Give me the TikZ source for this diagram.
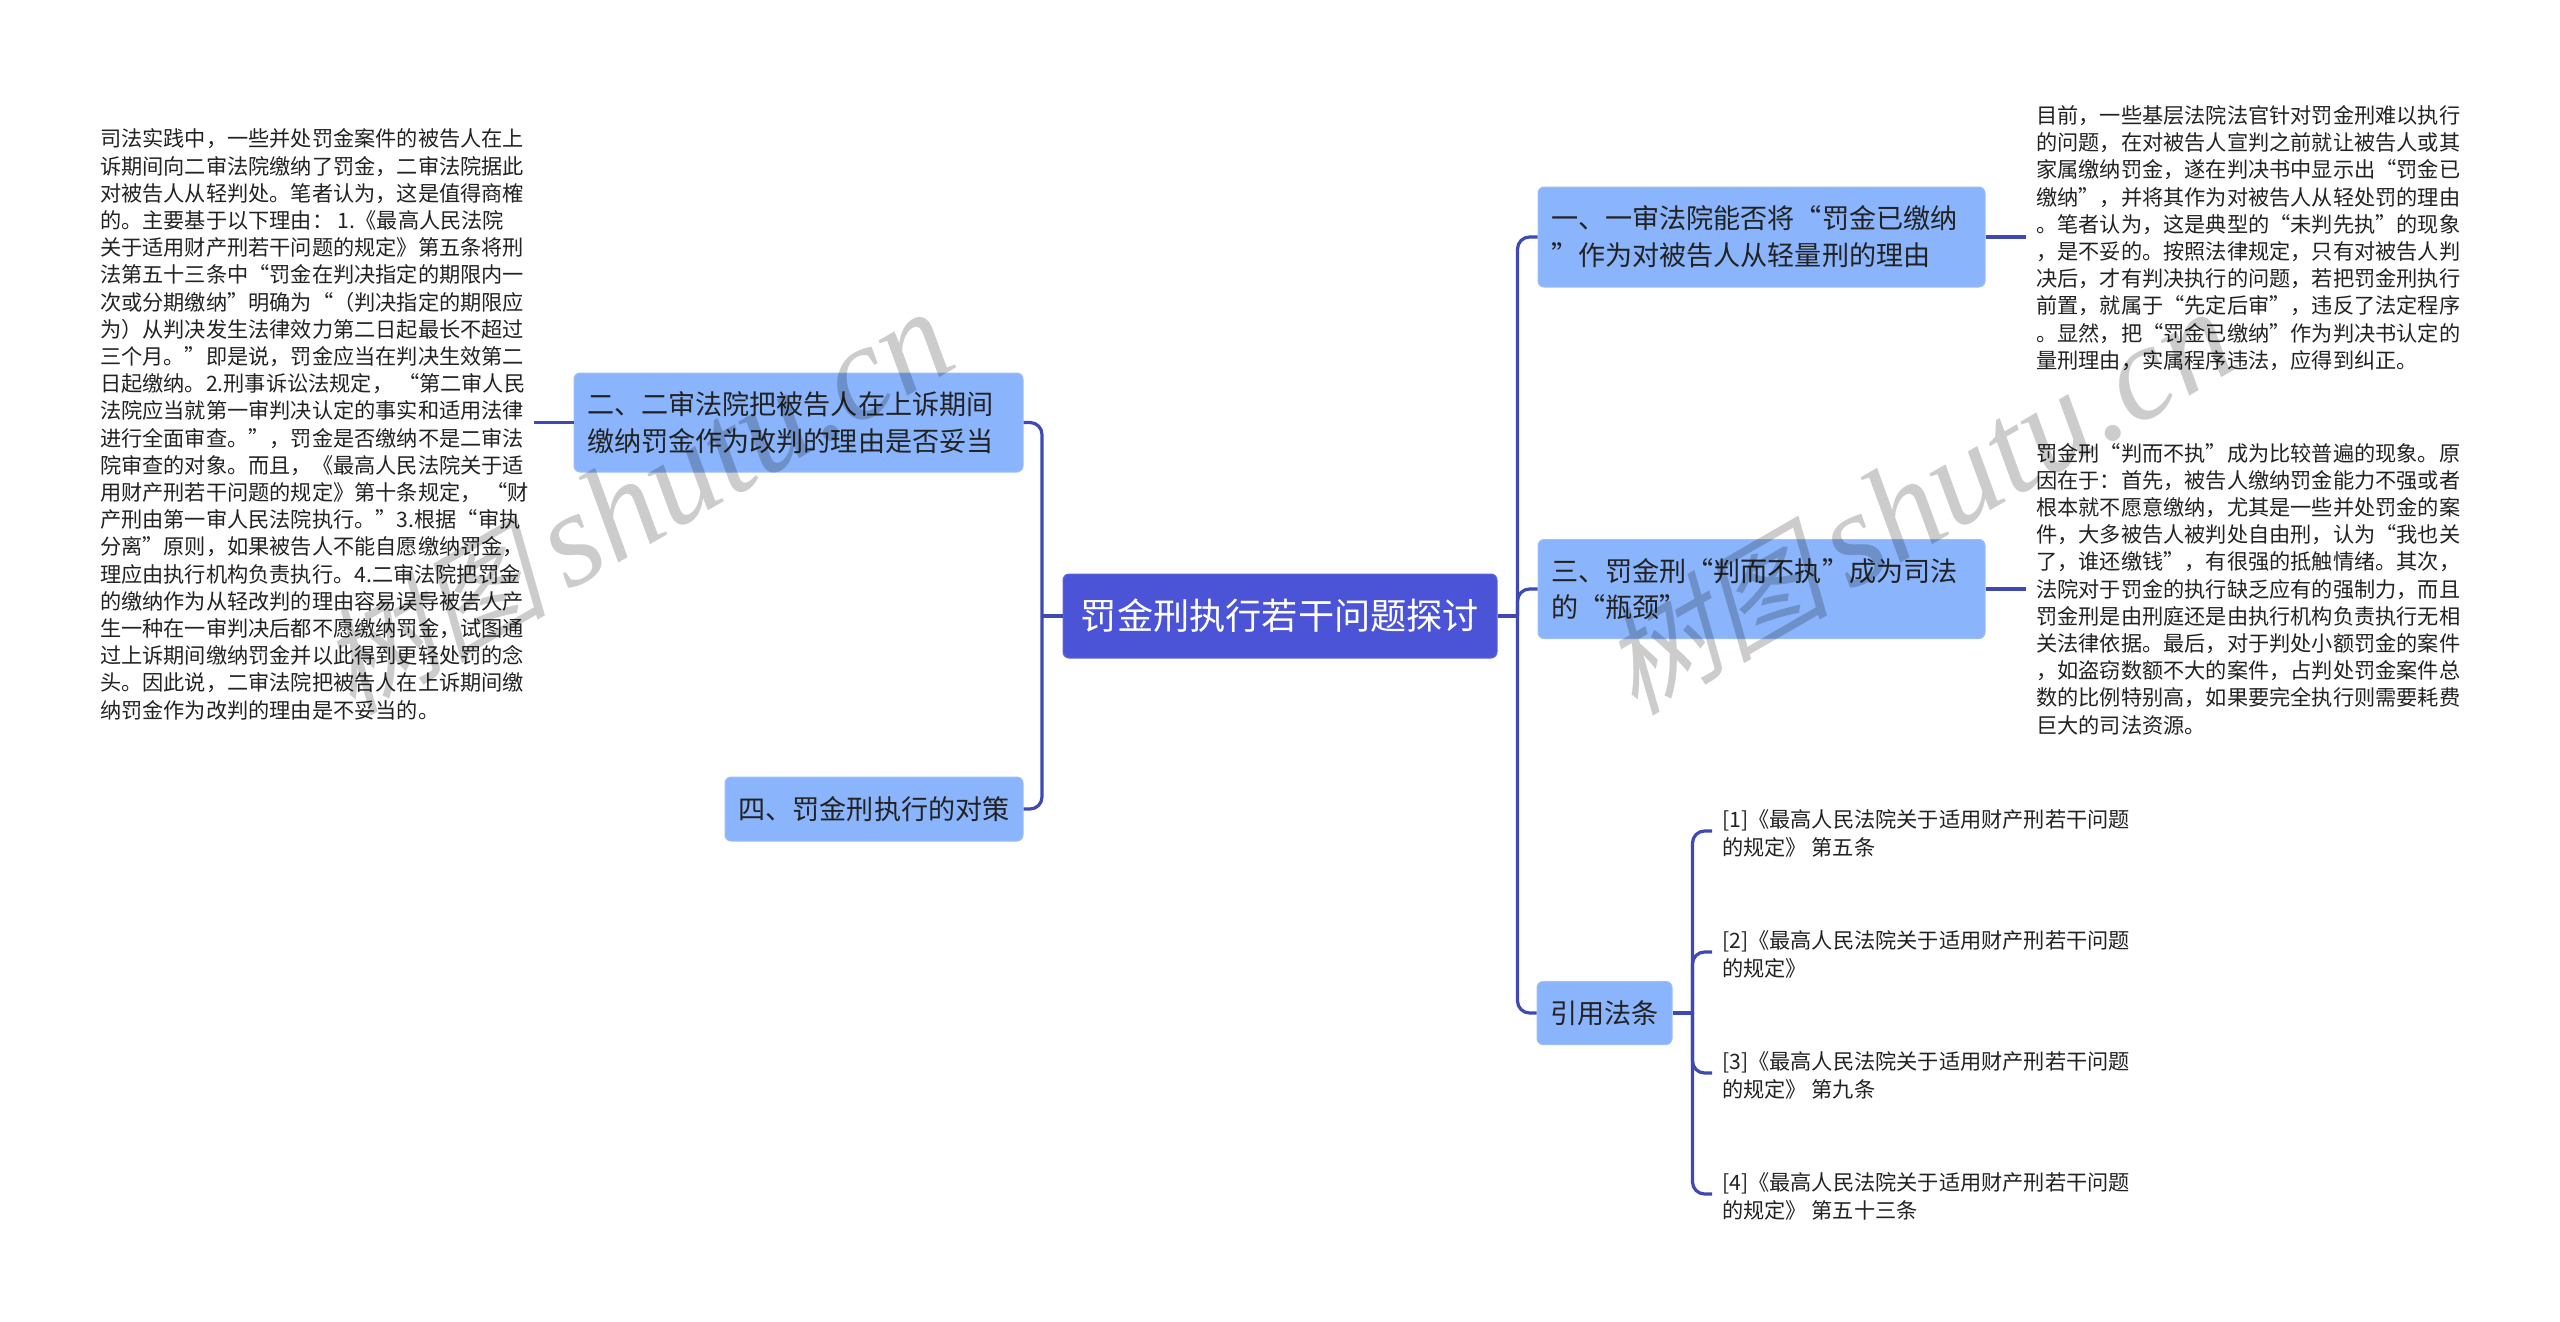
\documentclass[tikz,border=0pt]{standalone}
\usepackage{fontspec}
\setmainfont{Noto Sans CJK SC}
\newfontfamily\markcjk[FakeSlant=0.25]{Noto Sans CJK SC}
\newfontfamily\marklat{Liberation Serif}
\definecolor{rootblue}{HTML}{4B53D7}
\definecolor{topicblue}{HTML}{8AB4FB}
\definecolor{linkblue}{HTML}{3F49B4}
\definecolor{inktext}{HTML}{222222}
\tikzset{
  rootbox/.style={draw=rootblue!90!white, fill=rootblue, text=white, rounded corners=6pt, line width=1pt,
    inner sep=0pt, align=center, font=\fontsize{36.2}{44}\selectfont},
  topicbox/.style={draw=topicblue!85!white, fill=topicblue, text=inktext, rounded corners=6pt, line width=1pt,
    inner xsep=13pt, inner ysep=0pt, align=left, font=\fontsize{27.1}{36.6}\selectfont},
  para/.style={text=inktext, inner sep=10pt, align=left, font=\fontsize{21.2}{27.2}\selectfont},
  branch/.style={draw=linkblue, line width=3.2pt, rounded corners=12pt},
  watermark/.style={text=black, opacity=0.2, anchor=base west, rotate=30, inner sep=0pt}
}
\begin{document}
\begin{tikzpicture}[x=1pt,y=-1pt]
    \useasboundingbox (0,0) rectangle (2560,1322);

    \node [rootbox, minimum width=434pt, minimum height=84pt] (root) at (1280,616) {罚金刑执行若干问题探讨};

    \node [topicbox, text width=423pt, minimum height=99pt] (two) at (798.5,422.5) {二、二审法院把被告人在上诉期间\\缴纳罚金作为改判的理由是否妥当};
    \node [topicbox, text width=272pt, minimum height=64pt, align=center] (four) at (874,809) {四、罚金刑执行的对策};
    \node [topicbox, text width=421pt, minimum height=100pt] (one) at (1761.5,237) {一、一审法院能否将“罚金已缴纳\\”作为对被告人从轻量刑的理由};
    \node [topicbox, text width=421pt, minimum height=99pt] (three) at (1761.5,589) {三、罚金刑“判而不执”成为司法\\的“瓶颈”};
    \node [topicbox, text width=109pt, minimum height=63pt, align=center] (cite) at (1604.5,1013) {引用法条};

    \node [para, anchor=east, inner xsep=5pt] (twotext) at (534,424.5) {司法实践中，一些并处罚金案件的被告人在上\\
诉期间向二审法院缴纳了罚金，二审法院据此\\
对被告人从轻判处。笔者认为，这是值得商榷\\
的。主要基于以下理由： 1.《最高人民法院\\
关于适用财产刑若干问题的规定》第五条将刑\\
法第五十三条中“罚金在判决指定的期限内一\\
次或分期缴纳”明确为“（判决指定的期限应\\
为）从判决发生法律效力第二日起最长不超过\\
三个月。”即是说，罚金应当在判决生效第二\\
日起缴纳。2.刑事诉讼法规定， “第二审人民\\
法院应当就第一审判决认定的事实和适用法律\\
进行全面审查。”，罚金是否缴纳不是二审法\\
院审查的对象。而且，《最高人民法院关于适\\
用财产刑若干问题的规定》第十条规定， “财\\
产刑由第一审人民法院执行。”3.根据“审执\\
分离”原则，如果被告人不能自愿缴纳罚金，\\
理应由执行机构负责执行。4.二审法院把罚金\\
的缴纳作为从轻改判的理由容易误导被告人产\\
生一种在一审判决后都不愿缴纳罚金，试图通\\
过上诉期间缴纳罚金并以此得到更轻处罚的念\\
头。因此说，二审法院把被告人在上诉期间缴\\
纳罚金作为改判的理由是不妥当的。};

    \node [para, anchor=west] (onetext) at (2026,238) {目前，一些基层法院法官针对罚金刑难以执行\\
的问题，在对被告人宣判之前就让被告人或其\\
家属缴纳罚金，遂在判决书中显示出“罚金已\\
缴纳”，并将其作为对被告人从轻处罚的理由\\
。笔者认为，这是典型的“未判先执”的现象\\
，是不妥的。按照法律规定，只有对被告人判\\
决后，才有判决执行的问题，若把罚金刑执行\\
前置，就属于“先定后审”，违反了法定程序\\
。显然，把“罚金已缴纳”作为判决书认定的\\
量刑理由，实属程序违法，应得到纠正。};

    \node [para, anchor=west] (threetext) at (2026,589) {罚金刑“判而不执”成为比较普遍的现象。原\\
因在于：首先，被告人缴纳罚金能力不强或者\\
根本就不愿意缴纳，尤其是一些并处罚金的案\\
件，大多被告人被判处自由刑，认为“我也关\\
了，谁还缴钱”，有很强的抵触情绪。其次，\\
法院对于罚金的执行缺乏应有的强制力，而且\\
罚金刑是由刑庭还是由执行机构负责执行无相\\
关法律依据。最后，对于判处小额罚金的案件\\
，如盗窃数额不大的案件，占判处罚金案件总\\
数的比例特别高，如果要完全执行则需要耗费\\
巨大的司法资源。};

    \node [para, anchor=west] (ref1) at (1712,833.5) {[1]《最高人民法院关于适用财产刑若干问题\\的规定》 第五条};
    \node [para, anchor=west] (ref2) at (1712,954.5) {[2]《最高人民法院关于适用财产刑若干问题\\的规定》};
    \node [para, anchor=west] (ref3) at (1712,1075.5) {[3]《最高人民法院关于适用财产刑若干问题\\的规定》 第九条};
    \node [para, anchor=west] (ref4) at (1712,1196.5) {[4]《最高人民法院关于适用财产刑若干问题\\的规定》 第五十三条};

    \path (root.west) ++(-20.5,0) coordinate (rootleft);
    \path (root.east) ++(20,0) coordinate (rootright);
    \path (cite.east) ++(20,0) coordinate (citeright);

    \draw [branch] (root.west) -- (rootleft);
    \draw [branch] (rootleft) |- (two.east);
    \draw [branch] (rootleft) |- (four.east);
    \draw [branch] (root.east) -- (rootright);
    \draw [branch] (rootright) |- (one.west);
    \draw [branch] (rootright) |- (three.west);
    \draw [branch] (rootright) |- (cite.west);
    \draw [branch] (two.west) -- (twotext.east |- two.west);
    \draw [branch] (one.east) -- (onetext.west |- one.east);
    \draw [branch] (three.east) -- (threetext.west);
    \draw [branch] (cite.east) -- (citeright);
    \draw [branch] (citeright) |- (ref1.west |- 0,831);
    \draw [branch] (citeright) |- (ref2.west |- 0,952);
    \draw [branch] (citeright) |- (ref3.west |- 0,1073);
    \draw [branch] (citeright) |- (ref4.west |- 0,1194);

    \node [watermark] (markleft) at (352,717) {{\fontsize{115}{115}\selectfont\markcjk 树图}\hspace{20pt}{\fontsize{135}{135}\selectfont\marklat\itshape shutu.cn}};
    \node [watermark] (markright) at (1634,717) {{\fontsize{115}{115}\selectfont\markcjk 树图}\hspace{20pt}{\fontsize{135}{135}\selectfont\marklat\itshape shutu.cn}};
\end{tikzpicture}
\end{document}
